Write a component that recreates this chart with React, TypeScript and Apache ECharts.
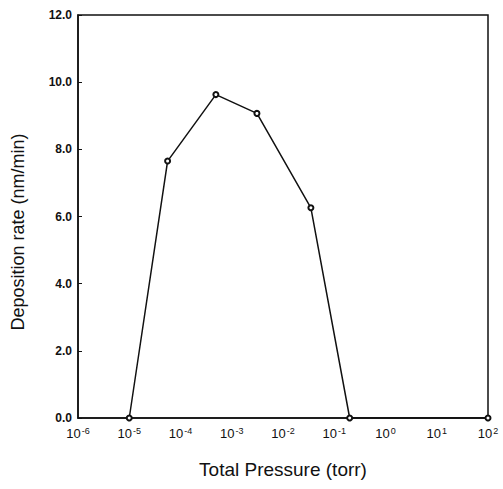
import React, { useEffect, useRef } from "react";
import * as echarts from "echarts";

const pressures = [1e-5, 5.6e-5, 4.9e-4, 3.1e-3, 3.5e-2, 0.2, 100];
const rates = [0, 7.65, 9.63, 9.07, 6.26, 0, 0];
const yTicks = [0, 2, 4, 6, 8, 10, 12];
const xTitle = "Total Pressure (torr)";
const yTitle = "Deposition rate (nm/min)";

export default function App() {
  const ref = useRef<HTMLDivElement>(null);
  useEffect(() => {
    if (!ref.current) return;
    const chart = echarts.init(ref.current, null, { renderer: "svg" });
    const font = "Liberation Sans, Arial, sans-serif";
    chart.setOption({
      animation: false,
      backgroundColor: "#fff",
      grid: {
        left: 78,
        right: 15,
        top: 15,
        bottom: 71,
        show: true,
        borderColor: "#111",
        borderWidth: 1.5,
      },
      graphic: [
        {
          type: "text",
          x: 18,
          y: 232,
          rotation: Math.PI / 2,
          style: {
            text: yTitle,
            fontFamily: font,
            fontSize: 18,
            fill: "#111",
            align: "center",
            verticalAlign: "middle",
          },
        },
      ],
      xAxis: {
        type: "log",
        logBase: 10,
        min: 1e-6,
        max: 100,
        name: xTitle,
        nameLocation: "middle",
        nameGap: 42,
        nameTextStyle: { fontFamily: font, fontSize: 19, color: "#111" },
        axisLine: { lineStyle: { color: "#111", width: 1.5 } },
        axisTick: { show: false },
        splitLine: { show: false },
        minorTick: { show: false },
        axisLabel: {
          margin: 8,
          color: "#111",
          showMaxLabel: true,
          hideOverlap: false,
          formatter: (v: number) => {
            const e = Math.round(Math.log10(v));
            return `{b|10}{s|${e}}`;
          },
          rich: {
            b: { fontFamily: font, fontSize: 13, color: "#111" },
            s: {
              fontFamily: font,
              fontSize: 9,
              color: "#111",
              verticalAlign: "top",
              padding: [0, 0, 6, 1],
            },
          },
        },
      },
      yAxis: {
        type: "value",
        min: 0,
        max: 12,
        interval: 2,
        axisLine: { show: true, lineStyle: { color: "#111", width: 1.5 } },
        axisTick: { show: true, inside: true, length: 4, lineStyle: { color: "#111" } },
        splitLine: { show: false },
        axisLabel: {
          margin: 6,
          color: "#111",
          fontFamily: font,
          fontSize: 12,
          fontWeight: "bold",
          formatter: (v: number) => (yTicks.includes(v) ? v.toFixed(1) : ""),
        },
      },
      series: [
        {
          type: "line",
          data: pressures.map((p, i) => [p, rates[i]]),
          symbol: "emptyCircle",
          symbolSize: 5,
          lineStyle: { color: "#111", width: 1.5 },
          itemStyle: { color: "#111", borderColor: "#111", borderWidth: 1 },
        },
      ],
    });
    return () => chart.dispose();
  }, []);
  return (
    <div
      ref={ref}
      style={{ position: "absolute", left: 0, top: 0, width: 503, height: 489 }}
    />
  );
}
